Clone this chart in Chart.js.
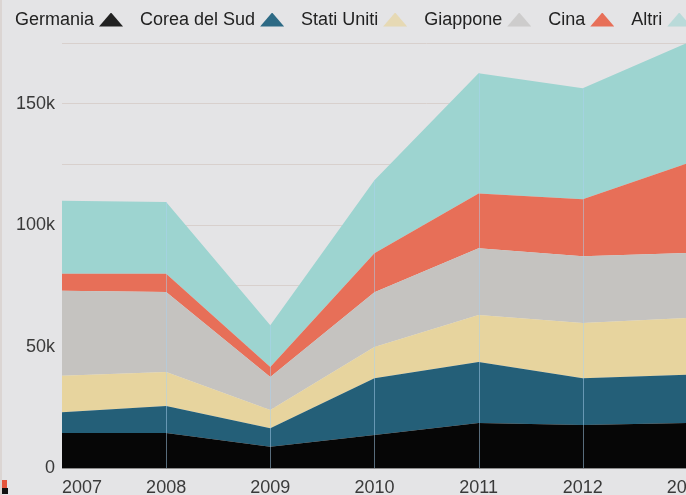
<!DOCTYPE html>
<html><head><meta charset="utf-8">
<script src="https://cdn.jsdelivr.net/npm/chart.js@4"></script>
<style>
html,body{margin:0;padding:0;background:#e4e4e6;overflow:hidden;width:686px;height:495px;}
#wrap{position:relative;width:686px;height:495px;overflow:hidden;}
#wrap:before{content:"";position:absolute;left:0;top:0;width:2px;height:495px;background:#dbd5d3;z-index:3;}
#cv{position:absolute;left:0;top:0;}
#legend{position:absolute;left:15px;top:9px;display:flex;white-space:nowrap;font-family:"Liberation Sans",Arial,sans-serif;font-size:18px;color:#222;z-index:2;}
.item{display:flex;align-items:center;margin-right:17px;}
.tri{width:24px;height:14px;margin-left:5px;clip-path:polygon(50% 0,100% 100%,0 100%);}
#mark1{position:absolute;left:0;top:480px;width:7px;height:8px;background:#e4553c;}
#mark2{position:absolute;left:0;top:488px;width:8px;height:6px;background:#111;}
</style></head>
<body>
<div id="wrap">
<canvas id="cv" width="800" height="495"></canvas>
<div id="legend"></div>
<div id="mark1"></div><div id="mark2"></div>
</div>
<script>
const years = [2007, 2008, 2009, 2010, 2011, 2012, 2013];
const seriesNames = ["Germania", "Corea del Sud", "Stati Uniti", "Giappone", "Cina", "Altri"];
const germania   = [14400, 14400, 8700, 13600, 18500, 17700, 18500];
const coreaDelSud = [8600, 11100, 7700, 23400, 25100, 19300, 19900];
const statiUniti = [15000, 14000, 7500, 12800, 19400, 22700, 23400];
const giappone   = [35000, 33000, 13600, 22600, 27500, 27500, 26700];
const cina       = [7000, 7500, 4100, 16000, 22500, 23500, 36900];
const altri      = [30000, 29500, 17200, 30100, 49500, 45700, 49600];
const yTickValues = [0, 50000, 100000, 150000];

const seriesValues = [germania, coreaDelSud, statiUniti, giappone, cina, altri];
const colors = ["#060606", "#245f78", "#e7d49e", "#c5c3c0", "#e76f58", "#9dd4d0"];
const legendTri = ["#222", "#2d6a85", "rgba(231,212,158,0.7)", "rgba(190,188,186,0.6)", "#e76f58", "rgba(157,212,208,0.6)"];

const font = {family: "'Liberation Sans', Arial, sans-serif", size: 18};

const vlines = {
  id: 'vlines',
  afterDatasetsDraw(chart) {
    const {ctx, scales: {x, y}} = chart;
    ctx.save();
    ctx.strokeStyle = 'rgba(170,210,240,0.5)';
    ctx.lineWidth = 1;
    years.forEach((yr, i) => {
      if (i === 0) return;
      const total = seriesValues.reduce((s, a) => s + a[i], 0);
      const px = Math.round(x.getPixelForValue(yr)) + 0.5;
      ctx.beginPath();
      ctx.moveTo(px, y.getPixelForValue(0));
      ctx.lineTo(px, y.getPixelForValue(total));
      ctx.stroke();
    });
    ctx.restore();
  }
};

new Chart(document.getElementById('cv'), {
  type: 'line',
  data: {
    datasets: seriesValues.map((arr, k) => ({
      label: seriesNames[k],
      data: years.map((yr, i) => ({x: yr, y: arr[i]})),
      backgroundColor: colors[k],
      borderColor: colors[k],
      borderWidth: 0,
      pointRadius: 0,
      tension: 0,
      fill: k === 0 ? 'origin' : '-1'
    }))
  },
  options: {
    responsive: false,
    animation: false,
    layout: {padding: {top: 43, right: 4, left: 0, bottom: 0}},
    plugins: {legend: {display: false}, tooltip: {enabled: false}},
    scales: {
      x: {
        type: 'linear', min: 2007, max: 2014,
        grid: {display: false, drawTicks: false},
        border: {display: true, color: '#8c8c8c', width: 1},
        ticks: {stepSize: 1, align: 'inner', padding: 9, font: font, color: '#3a3a3a',
                maxRotation: 0, autoSkip: false,
                callback: v => String(v)},
        afterFit: s => { s.height = 27; }
      },
      y: {
        stacked: true, min: 0, max: 175000, z: 1,
        grid: {color: 'rgba(214,204,200,0.85)', drawTicks: false, lineWidth: 1},
        border: {display: false},
        ticks: {stepSize: 25000, padding: 7, font: font, color: '#3a3a3a',
                callback: v => yTickValues.includes(v) ? (v === 0 ? '0' : (v / 1000) + 'k') : ''},
        afterFit: s => { s.width = 62; }
      }
    }
  },
  plugins: [vlines]
});

const lg = document.getElementById('legend');
seriesNames.forEach((n, k) => {
  const it = document.createElement('div');
  it.className = 'item';
  const t = document.createElement('span');
  t.textContent = n;
  const tri = document.createElement('span');
  tri.className = 'tri';
  tri.style.background = legendTri[k];
  it.appendChild(t); it.appendChild(tri);
  lg.appendChild(it);
});
</script>
</body></html>
